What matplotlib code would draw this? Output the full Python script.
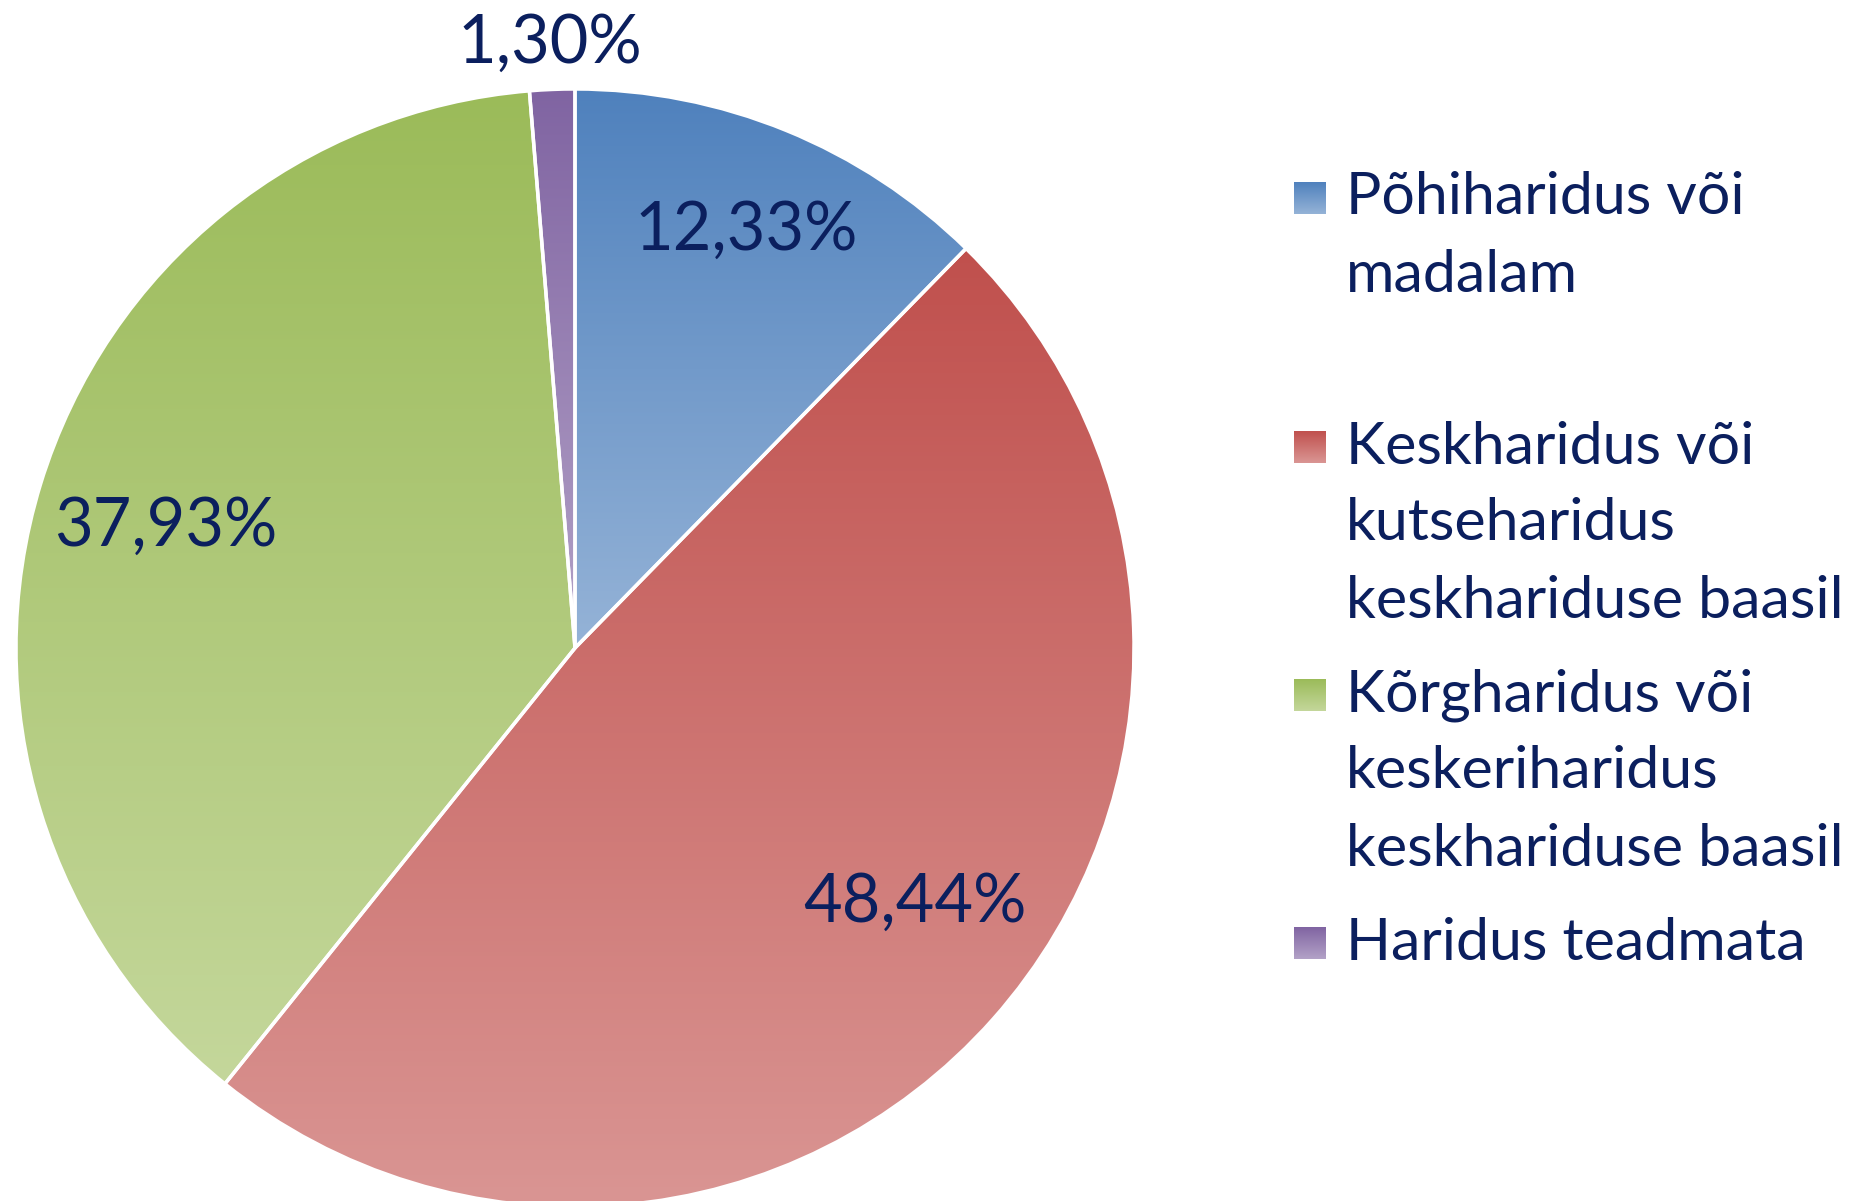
import numpy as np
import matplotlib
matplotlib.use("Agg")
import matplotlib.pyplot as plt
from matplotlib.colors import to_rgb

# -----------------------------
# Data
# -----------------------------

categories = [
    "Põhiharidus või\nmadalam",
    "Keskharidus või\nkutseharidus\nkeskhariduse baasil",
    "Kõrgharidus või\nkeskeriharidus\nkeskhariduse baasil",
    "Haridus teadmata",
]
shares = [12.33, 48.44, 37.93, 1.30]
share_labels = ["12,33%", "48,44%", "37,93%", "1,30%"]

dark_colors = ["#4F81BD", "#C0504D", "#9BBB59", "#8064A2"]
light_colors = ["#95B3D7", "#DA9694", "#C4D79B", "#B3A2C7"]

text_color = "#0B1F5E"
font = ["Lato", "DejaVu Sans"]

# -----------------------------
# Figure in pixel coordinates
# -----------------------------

W, H = 1856, 1201
fig = plt.figure(figsize=(W / 100, H / 100), dpi=100)
ax = fig.add_axes([0, 0, 1, 1])

cx, cy = 575, H - 648
radius = 559


def gradient(top, bottom, n=256):
    t = np.linspace(0, 1, n)[:, None]
    a = np.array(to_rgb(bottom))
    b = np.array(to_rgb(top))
    return (a * (1 - t) + b * t)[:, None, :]


wedges, _ = ax.pie(
    shares,
    center=(cx, cy),
    radius=radius,
    startangle=90,
    counterclock=False,
    frame=True,
    wedgeprops=dict(edgecolor="white", linewidth=2.5),
)
ax.set_xlim(0, W)
ax.set_ylim(0, H)
ax.axis("off")

for w, c1, c2 in zip(wedges, dark_colors, light_colors):
    verts = w.get_patch_transform().transform(w.get_path().vertices)
    x0, y0 = verts.min(axis=0)
    x1, y1 = verts.max(axis=0)
    im = ax.imshow(gradient(c1, c2), extent=(x0, x1, y0, y1),
                   origin="lower", aspect="auto", zorder=1)
    im.set_clip_path(w)
    w.set_facecolor("none")
    w.set_zorder(2)

# -----------------------------
# Percentage labels
# -----------------------------

label_pos = [(746, 231), (915, 903), (166, 527), (550, 44)]
for txt, (x, y) in zip(share_labels, label_pos):
    ax.text(x, H - y, txt, ha="center", va="center", fontsize=48,
            color=text_color, family=font, zorder=3)

# -----------------------------
# Legend
# -----------------------------

entry_y = [198, 447, 695, 943]
line_step = 77
for name, c1, c2, y in zip(categories, dark_colors, light_colors, entry_y):
    ax.imshow(gradient(c1, c2), extent=(1294, 1326, H - y - 16, H - y + 16),
              origin="lower", aspect="auto", zorder=3)
    for i, line in enumerate(name.split("\n")):
        ax.text(1346, H - y - i * line_step, line, ha="left", va="center",
                fontsize=42.5, color=text_color, family=font, zorder=3)

ax.set_xlim(0, W)
ax.set_ylim(0, H)

fig.savefig("out.png", dpi=100, facecolor="white")
